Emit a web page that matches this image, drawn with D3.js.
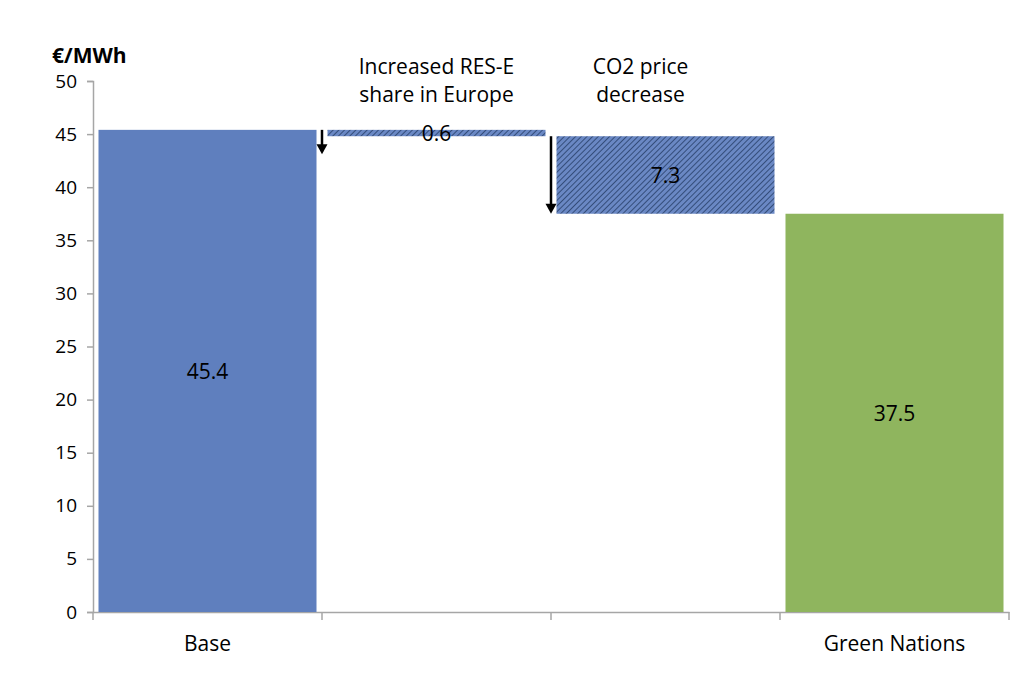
<!DOCTYPE html>
<html lang="en">
<head>
<meta charset="UTF-8">
<title>Waterfall</title>
<script src="https://d3js.org/d3.v7.min.js"></script>
<style>
  body { margin: 0; background: #fff; }
  text { font-family: "Open Sans", "Liberation Sans", sans-serif; fill: #000; }
</style>
</head>
<body>
<svg id="chart" width="1024" height="676"></svg>
<script>
// data
const categories = ["Base", "RES", "CO2", "Green Nations"];
const axisLabels = ["Base", "", "", "Green Nations"];
const barStart = [0, 45.4, 44.8, 0];
const barEnd = [45.4, 44.8, 37.5, 37.5];
const barLabels = ["45.4", "0.6", "7.3", "37.5"];
const barKind = ["total", "step", "step", "green"];
const topLabels = [[], ["Increased RES-E", "share in Europe"], ["CO2 price", "decrease"], []];
const arrowFrom = [null, 45.4, 44.8, null];
const arrowTo = [null, 43.1, 37.5, null];
const yTicks = [0, 5, 10, 15, 20, 25, 30, 35, 40, 45, 50];

const svg = d3.select("#chart");
const margin = { top: 81, right: 15, bottom: 64, left: 93 };
const width = 1024 - margin.left - margin.right;
const height = 676 - margin.top - margin.bottom;

const defs = svg.append("defs");
const pat = defs.append("pattern")
    .attr("id", "hatch")
    .attr("patternUnits", "userSpaceOnUse")
    .attr("width", 4).attr("height", 4)
    .attr("patternTransform", "rotate(45)");
pat.append("rect").attr("width", 4).attr("height", 4).attr("fill", "#6a88c4");
pat.append("line").attr("x1", 0).attr("y1", 0).attr("x2", 0).attr("y2", 4)
    .attr("stroke", "#344d7a").attr("stroke-width", 2);

const x = d3.scaleBand().domain(categories).range([0, width]).paddingInner(0.048).paddingOuter(0.024);
const xb = d3.scaleBand().domain(categories).range([0, width]).padding(0);
const y = d3.scaleLinear().domain([0, 50]).range([height, 0]);

const g = svg.append("g").attr("transform", `translate(${margin.left},${margin.top})`);

// y axis
const yAxis = g.append("g")
    .call(d3.axisLeft(y).tickValues(yTicks).tickSize(6).tickPadding(10));
yAxis.select(".domain").attr("stroke", "#a6a6a6").attr("stroke-width", 1.5);
yAxis.selectAll(".tick line").attr("stroke", "#a6a6a6").attr("stroke-width", 1.5);
yAxis.selectAll(".tick text").style("font-size", "19px").attr("fill", "#000");

// x axis
const xAxis = g.append("g")
    .attr("transform", `translate(0,${height})`)
    .call(d3.axisBottom(xb).tickSize(0).tickFormat((d, i) => axisLabels[i]).tickPadding(24));
xAxis.select(".domain").attr("stroke", "#a6a6a6").attr("stroke-width", 1.5);
xAxis.selectAll(".tick text").style("font-size", "21px").attr("fill", "#000");
xAxis.selectAll(".sep")
    .data(d3.range(categories.length + 1))
    .enter().append("line")
    .attr("class", "sep")
    .attr("x1", i => i * xb.bandwidth()).attr("x2", i => i * xb.bandwidth())
    .attr("y1", 0).attr("y2", 8)
    .attr("stroke", "#a6a6a6").attr("stroke-width", 1.5);

// bars
const fills = { total: "#5f7fbe", step: "url(#hatch)", green: "#8fb55e" };
g.selectAll(".bar")
    .data(categories)
    .enter().append("rect")
    .attr("class", "bar")
    .attr("x", d => x(d))
    .attr("width", x.bandwidth())
    .attr("y", (d, i) => y(Math.max(barStart[i], barEnd[i])))
    .attr("height", (d, i) => Math.abs(y(barStart[i]) - y(barEnd[i])))
    .attr("fill", (d, i) => fills[barKind[i]]);

// value labels
g.selectAll(".val")
    .data(categories)
    .enter().append("text")
    .attr("class", "val")
    .attr("x", d => x(d) + x.bandwidth() / 2)
    .attr("y", (d, i) => (y(barStart[i]) + y(barEnd[i])) / 2 + 8)
    .attr("text-anchor", "middle")
    .style("font-size", "21px")
    .text((d, i) => barLabels[i]);

// arrows at band starts
categories.forEach((d, i) => {
    if (arrowFrom[i] === null) return;
    const ax = xb(d);
    const y0 = y(arrowFrom[i]), y1 = y(arrowTo[i]);
    g.append("line")
        .attr("x1", ax).attr("x2", ax)
        .attr("y1", y0).attr("y2", y1 - 8)
        .attr("stroke", "#000").attr("stroke-width", 2.5);
    g.append("path")
        .attr("d", `M${ax - 5.5},${y1 - 10} L${ax + 5.5},${y1 - 10} L${ax},${y1} Z`)
        .attr("fill", "#000");
});

// top labels
const topOffset = [0, 0, -25, 0];
categories.forEach((d, i) => {
    topLabels[i].forEach((line, j) => {
        g.append("text")
            .attr("x", xb(d) + xb.bandwidth() / 2 + topOffset[i])
            .attr("y", -7 + j * 28)
            .attr("text-anchor", "middle")
            .style("font-size", "21px")
            .text(line);
    });
});

// unit label
svg.append("text")
    .attr("x", 52).attr("y", 63)
    .style("font-size", "21px")
    .style("font-weight", "bold")
    .text("€/MWh");
</script>
</body>
</html>
